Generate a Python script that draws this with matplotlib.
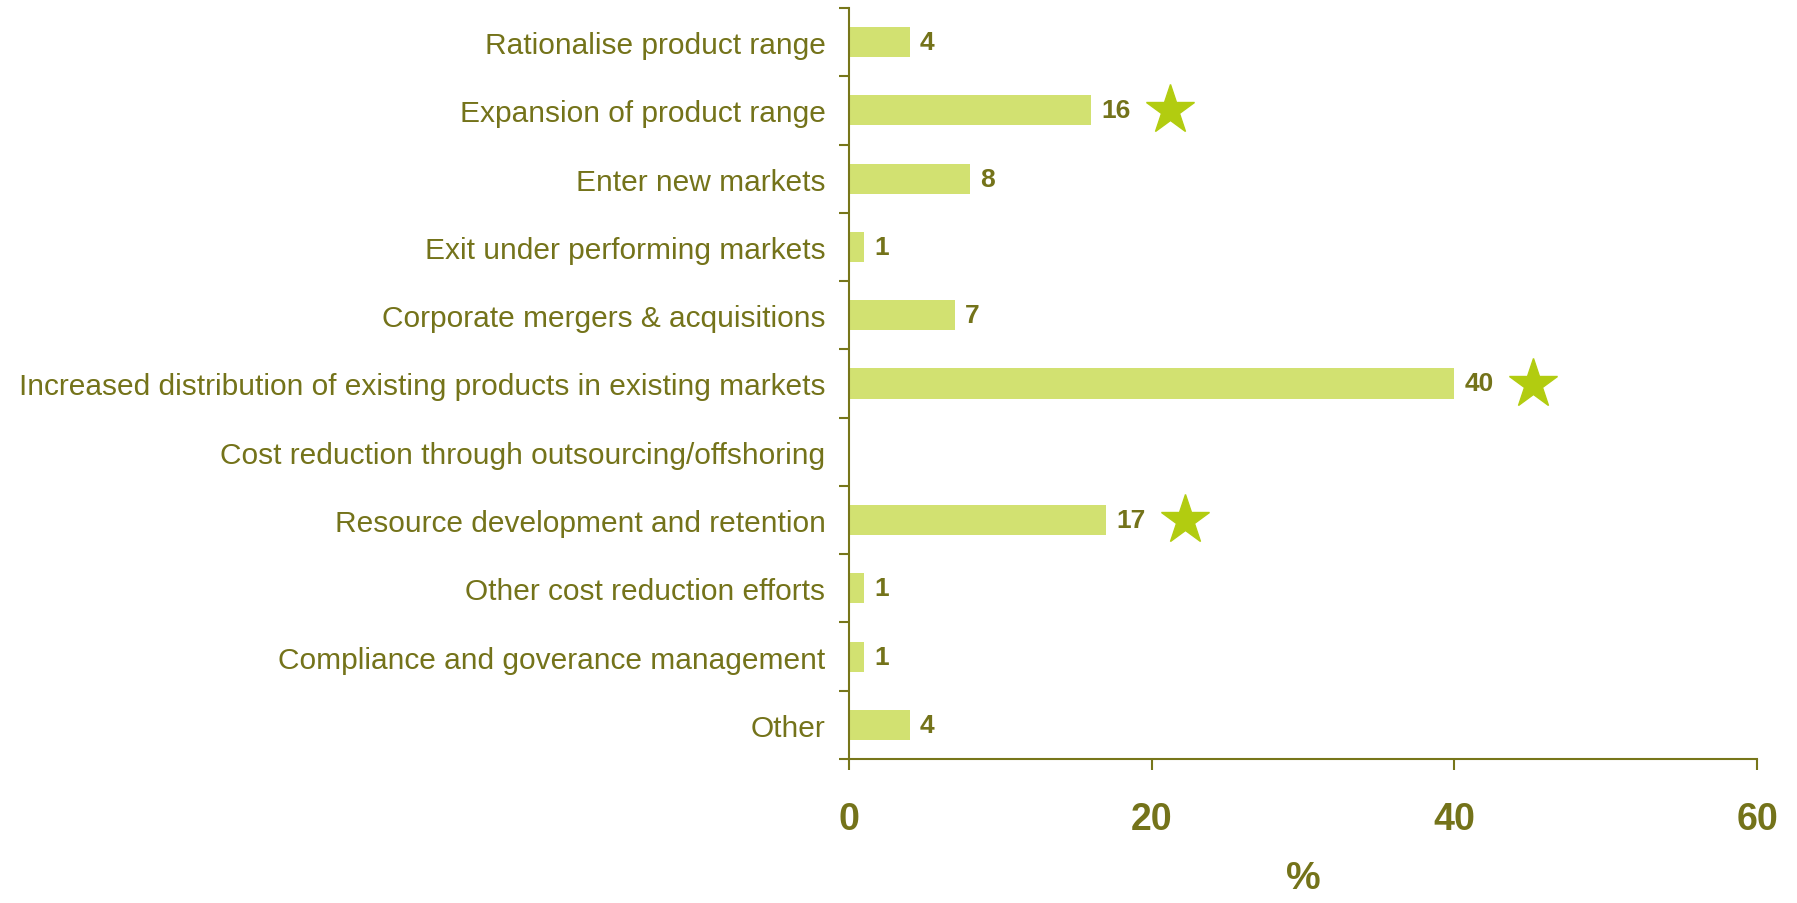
import matplotlib
matplotlib.use("Agg")
import matplotlib.pyplot as plt
import numpy as np

categories = [
    "Rationalise product range",
    "Expansion of product range",
    "Enter new markets",
    "Exit under performing markets",
    "Corporate mergers & acquisitions",
    "Increased distribution of existing products in existing markets",
    "Cost reduction through outsourcing/offshoring",
    "Resource development and retention",
    "Other cost reduction efforts",
    "Compliance and goverance management",
    "Other",
]
values = [4, 16, 8, 1, 7, 40, None, 17, 1, 1, 4]
starred = [False, True, False, False, False, True, False, True, False, False, False]
x_ticks = [0, 20, 40, 60]
x_label = "%"

TEXT = "#74731a"
AXIS = "#77761a"
BAR = "#d2e171"
STAR = "#b2cc10"

plt.rcParams['font.family'] = ['Liberation Sans', 'DejaVu Sans']

fig = plt.figure(figsize=(17.97, 9.04), dpi=100)
ax = fig.add_axes([849/1797, 1-760/904, (1757-849)/1797, (760-9)/904])

n = len(categories)
ypos = np.arange(n)
vals = [v if v is not None else 0 for v in values]
ax.barh(ypos, vals, height=0.44, color=BAR, edgecolor='none', zorder=2)

for y, v in zip(ypos, values):
    if v is None:
        continue
    ax.annotate(str(v), (v, y), xytext=(10, 0), textcoords='offset pixels',
                ha='left', va='center', fontsize=19, fontweight='bold', color=TEXT)

for y, v, s in zip(ypos, vals, starred):
    if s:
        ax.plot(v + 5.2, y, marker='*', markersize=37, color=STAR,
                markeredgecolor=STAR, linestyle='none', zorder=3)

ax.set_xlim(0, 60)
ax.set_ylim(n - 0.5, -0.5)
ax.set_xticks(x_ticks)
ax.set_xticklabels([str(t) for t in x_ticks], fontsize=27, fontweight='bold', color=TEXT)
ax.set_yticks(ypos)
ax.set_yticklabels(categories, fontsize=21.5, color=TEXT)
ax.set_yticks(np.arange(-0.5, n, 1.0), minor=True)

ax.tick_params(axis='y', which='major', length=0, pad=17)
ax.tick_params(axis='y', which='minor', length=7, width=1.5, color=AXIS, direction='out')
ax.tick_params(axis='x', which='major', length=8, width=1.5, color=AXIS, direction='out', pad=22)

for side in ['top', 'right']:
    ax.spines[side].set_visible(False)
for side in ['left', 'bottom']:
    ax.spines[side].set_color(AXIS)
    ax.spines[side].set_linewidth(1.5)

ax.set_xlabel(x_label, fontsize=28, fontweight='bold', color=TEXT, labelpad=17)

fig.savefig("out.png", dpi=100)
